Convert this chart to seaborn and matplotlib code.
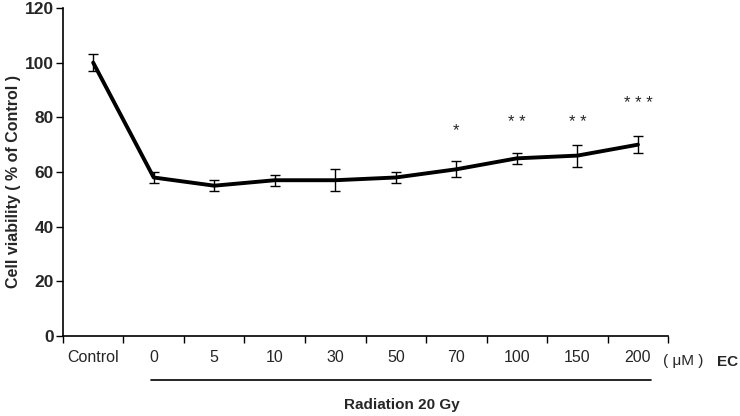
import matplotlib
matplotlib.use("Agg")
import matplotlib.pyplot as plt
import seaborn as sns
import pandas as pd

# data
doses = ['Control', '0', '5', '10', '30', '50', '70', '100', '150', '200']
viability = [100, 58, 55, 57, 57, 58, 61, 65, 66, 70]
errors = [3, 2, 2, 2, 4, 2, 3, 2, 4, 3]
stars = ['', '', '', '', '', '', '*', '* *', '* *', '* * *']
star_y = [0, 0, 0, 0, 0, 0, 75, 78, 78, 85]

df = pd.DataFrame({'dose': doses, 'viability': viability, 'err': errors})
pos = list(range(len(doses)))

sns.set_style('ticks')
plt.rcParams['font.family'] = ['Liberation Sans', 'DejaVu Sans']

fig = plt.figure(figsize=(7.4, 4.16), dpi=100)
ax = fig.add_axes([0.085, 0.192, 0.818, 0.789])

sns.lineplot(data=df, x='dose', y='viability', color='black', linewidth=2.8, ax=ax, sort=False)
ax.errorbar(pos, viability, yerr=errors, fmt='none', ecolor='black', elinewidth=1, capsize=3.5, capthick=1)

for i, s in enumerate(stars):
    if s:
        ax.text(i, star_y[i], s, ha='center', va='center', fontsize=12)

ax.set_xlim(-0.5, len(doses) - 0.5)
ax.set_ylim(0, 120)
ax.set_yticks([0, 20, 40, 60, 80, 100, 120])
ax.set_yticklabels(['0', '20', '40', '60', '80', '100', '120'], fontsize=12.5, fontweight='bold')

# tick marks between categories, labels at category centres
ax.set_xticks([p - 0.5 for p in pos] + [len(doses) - 0.5])
ax.set_xticklabels([])
ax.set_xticks(pos, minor=True)
ax.set_xticklabels(doses, minor=True, fontsize=11.5)
ax.tick_params(axis='x', which='minor', length=0, pad=10)
ax.tick_params(axis='both', which='major', length=5, width=1, direction='out', color='black')
ax.tick_params(axis='y', pad=1.5)

ax.set_xlabel('')
ax.set_ylabel('Cell viability ( % of Control )', fontsize=11.5, fontweight='bold')
ax.yaxis.set_label_coords(-0.07, 0.47)

for side in ['top', 'right']:
    ax.spines[side].set_visible(False)
for side in ['left', 'bottom']:
    ax.spines[side].set_linewidth(1.2)
    ax.spines[side].set_color('black')

# unit, EC label, radiation bracket
trans = ax.get_xaxis_transform()
ax.text(9.42, -0.075, '( μM )', transform=trans, ha='left', va='center', fontsize=11, clip_on=False)
ax.text(10.3, -0.08, 'EC', transform=trans, ha='left', va='center', fontsize=11, fontweight='bold', clip_on=False)
ax.plot([0.95, 9.22], [-0.135, -0.135], transform=trans, color='black', linewidth=1.2, clip_on=False)
ax.text(5.1, -0.21, 'Radiation 20 Gy', transform=trans, ha='center', va='center', fontsize=11, fontweight='bold', clip_on=False)

plt.savefig('out.png', dpi=100)
